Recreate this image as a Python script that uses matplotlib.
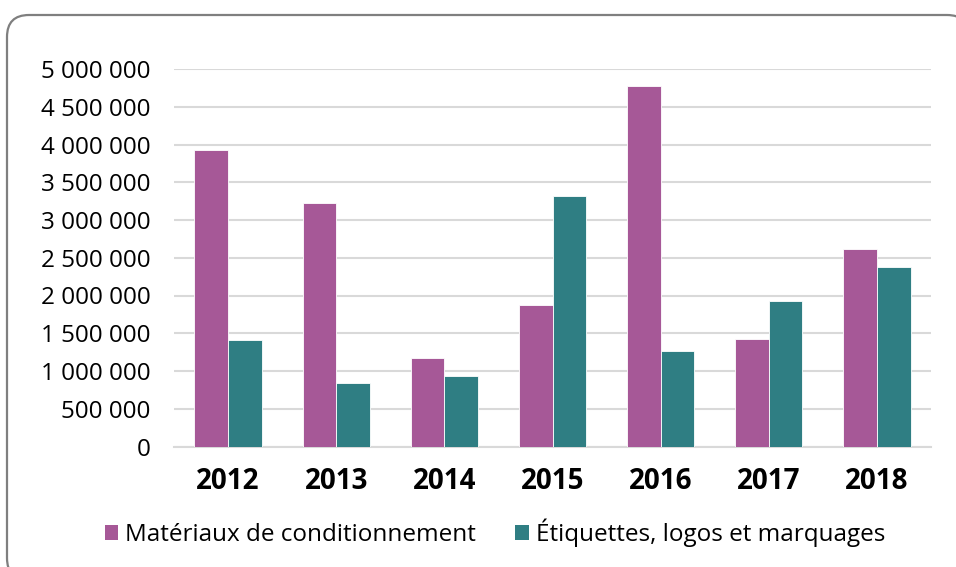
import matplotlib
matplotlib.use("Agg")
import matplotlib.pyplot as plt
import numpy as np
from matplotlib.patches import FancyBboxPatch, Patch

years = ["2012", "2013", "2014", "2015", "2016", "2017", "2018"]
materiaux = [3930000, 3230000, 1170000, 1870000, 4780000, 1430000, 2620000]
etiquettes = [1410000, 840000, 940000, 3320000, 1260000, 1930000, 2380000]
series_names = ["Matériaux de conditionnement", "Étiquettes, logos et marquages"]
yticks = [0, 500000, 1000000, 1500000, 2000000, 2500000, 3000000, 3500000, 4000000, 4500000, 5000000]

c1 = "#A65897"
c2 = "#2F7E83"
FONT = ["Open Sans", "DejaVu Sans"]
plt.rcParams["font.family"] = FONT

W, H = 956, 567
fig = plt.figure(figsize=(W / 100, H / 100), dpi=100)

# background frame
bg = fig.add_axes([0, 0, 1, 1], zorder=-10)
bg.set_xlim(0, W)
bg.set_ylim(H, 0)
bg.axis("off")
bg.add_patch(FancyBboxPatch((7, 15), 962, 565, boxstyle="round,pad=0,rounding_size=22",
                            facecolor="white", edgecolor="#7F7F7F", linewidth=1.6))

ax = fig.add_axes([174 / W, (H - 446.5) / H, (931 - 174) / W, (446.5 - 69) / H])
ax.patch.set_alpha(0)
x = np.arange(len(years))
bw = 0.311
ax.bar(x - bw / 2, materiaux, bw, color=c1, edgecolor="white", linewidth=0.6, zorder=3)
ax.bar(x + bw / 2, etiquettes, bw, color=c2, edgecolor="white", linewidth=0.6, zorder=3)

ax.set_xlim(-0.5, len(years) - 0.5)
ax.set_ylim(0, 5000000)
ax.set_yticks(yticks)
ax.set_yticklabels([f"{v:,}".replace(",", " ") for v in yticks], fontsize=17.5)
ax.set_xticks(x)
ax.set_xticklabels(years, fontsize=20, fontweight="bold")
ax.tick_params(axis="y", length=0, pad=17)
ax.tick_params(axis="x", length=0, pad=15)
ax.grid(axis="y", color="#D9D9D9", linewidth=1.5, zorder=0)
for s in ["top", "right", "left"]:
    ax.spines[s].set_visible(False)
ax.spines["bottom"].set_color("#D9D9D9")
ax.spines["bottom"].set_linewidth(1.5)

handles = [Patch(facecolor=c1, label=series_names[0]), Patch(facecolor=c2, label=series_names[1])]
fig.legend(handles=handles, loc="center", bbox_to_anchor=(495 / W, (H - 533) / H), ncol=2,
           frameon=False, fontsize=17.5, handlelength=0.56, handleheight=0.56,
           handletextpad=0.3, columnspacing=1.6, borderpad=0)

fig.savefig("out.png", dpi=100)
